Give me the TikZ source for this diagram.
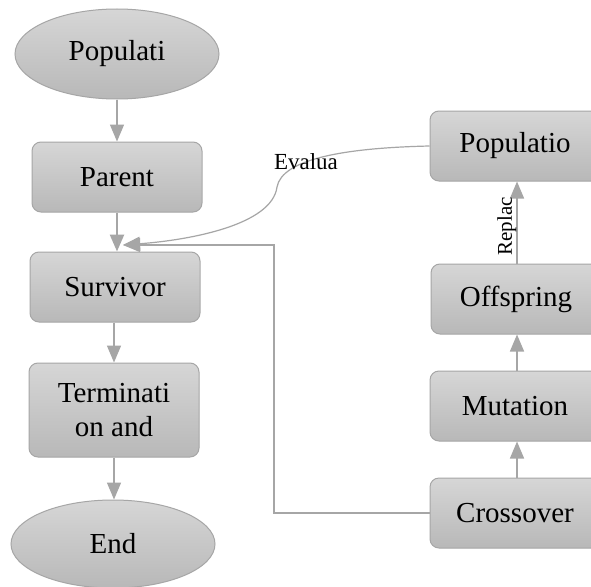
\documentclass[tikz,border=0pt]{standalone}
\usepackage{fontspec}
\setmainfont{Liberation Serif}
\usetikzlibrary{shapes.geometric,arrows.meta}
\definecolor{edge}{HTML}{A6A6A6}
\definecolor{ftop}{HTML}{D6D6D6}
\definecolor{fbot}{HTML}{B8B8B8}
\tikzset{
  box/.style={draw=edge, line width=1pt, rounded corners=9pt, top color=ftop, bottom color=fbot,
    minimum width=170pt, minimum height=70pt, inner sep=0pt, align=center,
    font=\fontsize{29}{34}\selectfont},
  oval/.style={draw=edge, line width=1pt, ellipse, top color=ftop, bottom color=fbot,
    minimum width=204pt, minimum height=90pt, inner sep=0pt,
    font=\fontsize{29}{34}\selectfont},
  arr/.style={draw=edge, line width=1.5pt, -{Triangle[length=17pt,width=14pt]}, color=edge},
  thin/.style={draw=edge, line width=1.2pt},
  lbl/.style={font=\fontsize{23}{26}\selectfont, inner sep=0pt, text=black}
}
\begin{document}
\begin{tikzpicture}[x=1pt,y=-1pt]
\useasboundingbox (0,0) rectangle (591,586);
\clip (0,0) rectangle (591,586);
\fill[white] (0,0) rectangle (591,586);
% left column
\node[oval] (pop0) at (117,54) {Populati};
\node[box] (par) at (117,177) {Parent};
\node[box] (sur) at (115,287) {Survivor};
\node[box, minimum height=94pt] (ter) at (114,410) {Terminati\\on and};
\node[oval, minimum height=88pt] (end) at (113,544) {End};
% right column
\node[box] (pop) at (515,146) {Populatio};
\node[box] (off) at (516,299) {Offspring};
\node[box] (mut) at (515,406) {Mutation};
\node[box] (cro) at (515,513) {Crossover};
\coordinate (m) at (123,245);
% arrows
\draw[arr] (pop0.south) -- (par.north);
\draw[arr, line width=2.5pt] (par.south) -- (par.south |- sur.north);
\draw[arr] (ter.north |- sur.south) -- (ter.north);
\draw[arr] (ter.south) -- (end.north -| ter.south);
\draw[arr] (cro.north -| 517,0) -- (mut.south -| 517,0);
\draw[arr] (mut.north -| 517,0) -- (off.south -| 517,0);
\draw[arr] (off.north -| 517,0) -- node[lbl, font=\fontsize{21}{24}\selectfont, rotate=90, anchor=south, xshift=-4pt] {Replac} (pop.south -| 517,0);
\draw[thin, -{Triangle[length=17pt,width=14pt]}, color=edge] (cro.west) -| (274,245) -- (m);
\draw[thin, -{Triangle[length=17pt,width=14pt]}, color=edge]
  (pop.west) .. controls (340,148) and (282,160) .. (277,187)
  .. controls (272,225) and (190,240) .. (m);
\node[lbl] (ev) at (306,162) {Evalua};
\end{tikzpicture}
\end{document}
